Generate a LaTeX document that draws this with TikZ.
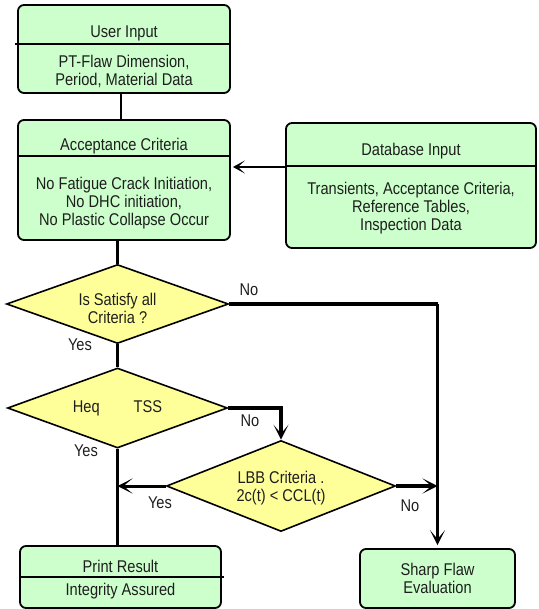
\documentclass[tikz,border=0pt]{standalone}
\usepackage{fontspec}
\setmainfont[FakeStretch=0.86]{Liberation Sans}
\usetikzlibrary{shapes.geometric, arrows.meta, positioning, calc}
\definecolor{boxgreen}{RGB}{204,255,204}
\definecolor{diayellow}{RGB}{255,255,153}
\definecolor{inkgray}{RGB}{30,30,30}
\newcommand{\flowfont}{\fontsize{17pt}{18pt}\selectfont}

\begin{document}
\begin{tikzpicture}[x=1pt, y=-1pt,
            box/.style={draw=black, line width=1.8pt, fill=boxgreen, rectangle, rounded corners=6pt, inner sep=0pt},
            decision/.style={draw=black, line width=1.6pt, fill=diayellow, diamond, inner sep=0pt},
            txt/.style={align=center, font=\flowfont, text=inkgray, inner sep=0pt},
            divider/.style={line width=1.6pt},
            link/.style={line width=2.8pt},
            flow/.style={line width=4.2pt},
            arr/.style={-{Stealth[length=12pt,width=13pt,inset=7pt]}},
            bigarr/.style={-{Stealth[length=15pt,width=15pt,inset=9pt]}}
        ]
            \useasboundingbox (0,0) rectangle (538,609);

            % boxes
            \node[box, minimum width=212pt, minimum height=88pt] (user) at (124,49) {};
            \node[txt] (usertitle) at (124,33) {User Input};
            \node[txt] (userbody) at (124,71) {PT-Flaw Dimension,\\Period, Material Data};
            \draw[divider] (15,44) -- (230,44);

            \node[box, minimum width=212pt, minimum height=120pt] (accept) at (124,180) {};
            \node[txt] (accepttitle) at (124,146) {Acceptance Criteria};
            \node[txt] (acceptbody) at (124,203) {No Fatigue Crack Initiation,\\No DHC initiation,\\No Plastic Collapse Occur};
            \draw[divider] (18,156) -- (230,156);

            \node[box, minimum width=250pt, minimum height=125pt] (db) at (411,185.5) {};
            \node[txt] (dbtitle) at (411,151) {Database Input};
            \node[txt] (dbbody) at (411,208) {Transients, Acceptance Criteria,\\Reference Tables,\\Inspection Data};
            \draw[divider] (286,166) -- (536,166);
            \coordinate (dbsplit) at (286,167);

            \node[box, minimum width=201pt, minimum height=62pt] (print) at (120.5,577) {};
            \node[txt] (printtitle) at (120.5,566) {Print Result};
            \node[txt] (printbody) at (120.5,591) {Integrity Assured};
            \draw[divider] (20,577) -- (224,577);

            \node[box, minimum width=155pt, minimum height=59pt, txt] (sharp) at (437.5,578.5) {Sharp Flaw\\Evaluation};

            % decisions
            \node[decision, minimum width=222pt, minimum height=79pt] (satisfy) at (117.5,304) {};
            \node[txt] (satisfytext) at (117.5,308) {Is Satisfy all\\Criteria ?};
            \node[decision, minimum width=220pt, minimum height=80pt] (heq) at (117.5,408) {};
            \node[txt] (heqtext) at (117.5,408) {Heq\hspace{34pt}TSS};
            \node[decision, minimum width=229pt, minimum height=91pt] (lbb) at (281,486) {};
            \node[txt] (lbbtext) at (281,488) {LBB Criteria .\\2c(t) < CCL(t)};

            % connectors
            \draw[link] ([xshift=-3pt]user.south) -- ([xshift=-3pt]accept.north);
            \draw[link, arr, shorten >=2pt] (dbsplit) -- (accept.east |- dbsplit);
            \draw[link] (satisfy.north |- accept.south) -- (satisfy.north);
            \draw[flow] (satisfy.east) -- (sharp.north |- satisfy.east);
            \draw[line width=3.2pt, bigarr, shorten >=3pt] (sharp.north |- satisfy.east) -- (sharp.north);
            \draw[link] (satisfy.south) -- (heq.north);
            \draw[flow, bigarr] (heq.east) -| (lbb.north);
            \draw[line width=3.2pt] (heq.south) -- (heq.south |- print.north);
            \draw[line width=3pt, bigarr] (lbb.west) -- (heq.south |- lbb.west);
            \draw[flow, bigarr] (lbb.east) -- (sharp.north |- lbb.east);

            % labels
            \node[txt] (no1) at (249,290) {No};
            \node[txt] (yes1) at (80,345) {Yes};
            \node[txt] (no2) at (250,421) {No};
            \node[txt] (yes2) at (86,451) {Yes};
            \node[txt] (yes3) at (160,503) {Yes};
            \node[txt] (no3) at (410,506) {No};
        \end{tikzpicture}
\end{document}
